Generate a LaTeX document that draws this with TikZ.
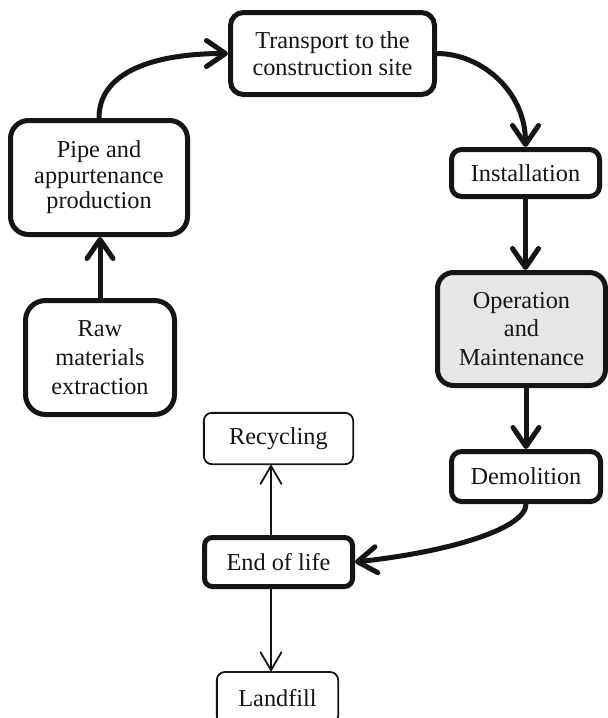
\documentclass[tikz,border=0pt]{standalone}
\usepackage{fontspec}
\setmainfont{Liberation Serif}
\usetikzlibrary{arrows.meta}
\definecolor{opgray}{HTML}{E6E6E6}
\definecolor{ink}{HTML}{151515}
\newcommand\txtsize[1]{\fontsize{24.3}{#1}\selectfont}
\tikzset{
  basebox/.style={draw=ink, rounded corners=#1, align=center, inner sep=0pt, text=ink, font=\txtsize{28.5}},
  thickbox/.style={basebox=#1, line width=5pt},
  thinbox/.style={basebox=#1, line width=1.8pt},
  bigarrow/.style={draw=ink, line width=5pt, line cap=round, line join=round, -{Straight Barb[length=19pt,width=26pt,round]}},
  smallarrow/.style={draw=ink, line width=1.8pt, line cap=round, -{Straight Barb[length=18pt,width=21pt,round]}}
}
\begin{document}
\begin{tikzpicture}[x=1pt,y=-1pt]
\useasboundingbox (0,0) rectangle (608,718);
\clip (0,0) rectangle (608,718);
\fill[white] (0,0) rectangle (608,718);

\node[thickbox=13pt, minimum width=204pt, minimum height=82pt, font=\txtsize{27.5}] (transport) at (332.5,53.5) {Transport to the\\construction site};
\node[thickbox=18pt, minimum width=177pt, minimum height=114pt, font=\txtsize{25.5}] (pipe) at (99,177.5) {Pipe and\\appurtenance\\production};
\node[thickbox=20pt, minimum width=149pt, minimum height=114pt, font=\txtsize{29}] (raw) at (100,357.5) {Raw\\materials\\extraction};
\node[thickbox=10pt, minimum width=148pt, minimum height=47pt] (install) at (525.5,173) {Installation};
\node[thickbox=16pt, fill=opgray, minimum width=168pt, minimum height=113pt] (oper) at (521.5,329) {Operation\\and\\Maintenance};
\node[thickbox=10pt, minimum width=149pt, minimum height=50pt] (demol) at (526,476.5) {Demolition};
\node[thickbox=8pt, minimum width=148pt, minimum height=49pt] (eol) at (278.5,562) {End of life};
\node[thinbox=8pt, minimum width=149.3pt, minimum height=51.3pt] (rec) at (278.5,438.5) {Recycling};
\node[thinbox=8pt, minimum width=121.3pt, minimum height=52pt] (land) at (277.5,698) {Landfill};

\draw[bigarrow] (raw.north) -- (raw.north |- pipe.south);
\draw[bigarrow] (pipe.north) .. controls +(0,-48) and +(-70,0) .. (transport.west);
\draw[bigarrow] (transport.east) .. controls +(43,0) and +(0,-57) .. (install.north);
\draw[bigarrow] (install.south) -- (install.south |- oper.north);
\draw[bigarrow] (demol.north |- oper.south) -- (demol.north);
\draw[bigarrow] (demol.south) .. controls +(0,25) and +(93,-10) .. (eol.east);
\draw[smallarrow] ([xshift=-7.5pt]eol.north) -- ([xshift=-7.5pt]eol.north |- rec.south);
\draw[smallarrow] ([xshift=-7.5pt]eol.south) -- ([xshift=-7.5pt]eol.south |- land.north);
\end{tikzpicture}
\end{document}
